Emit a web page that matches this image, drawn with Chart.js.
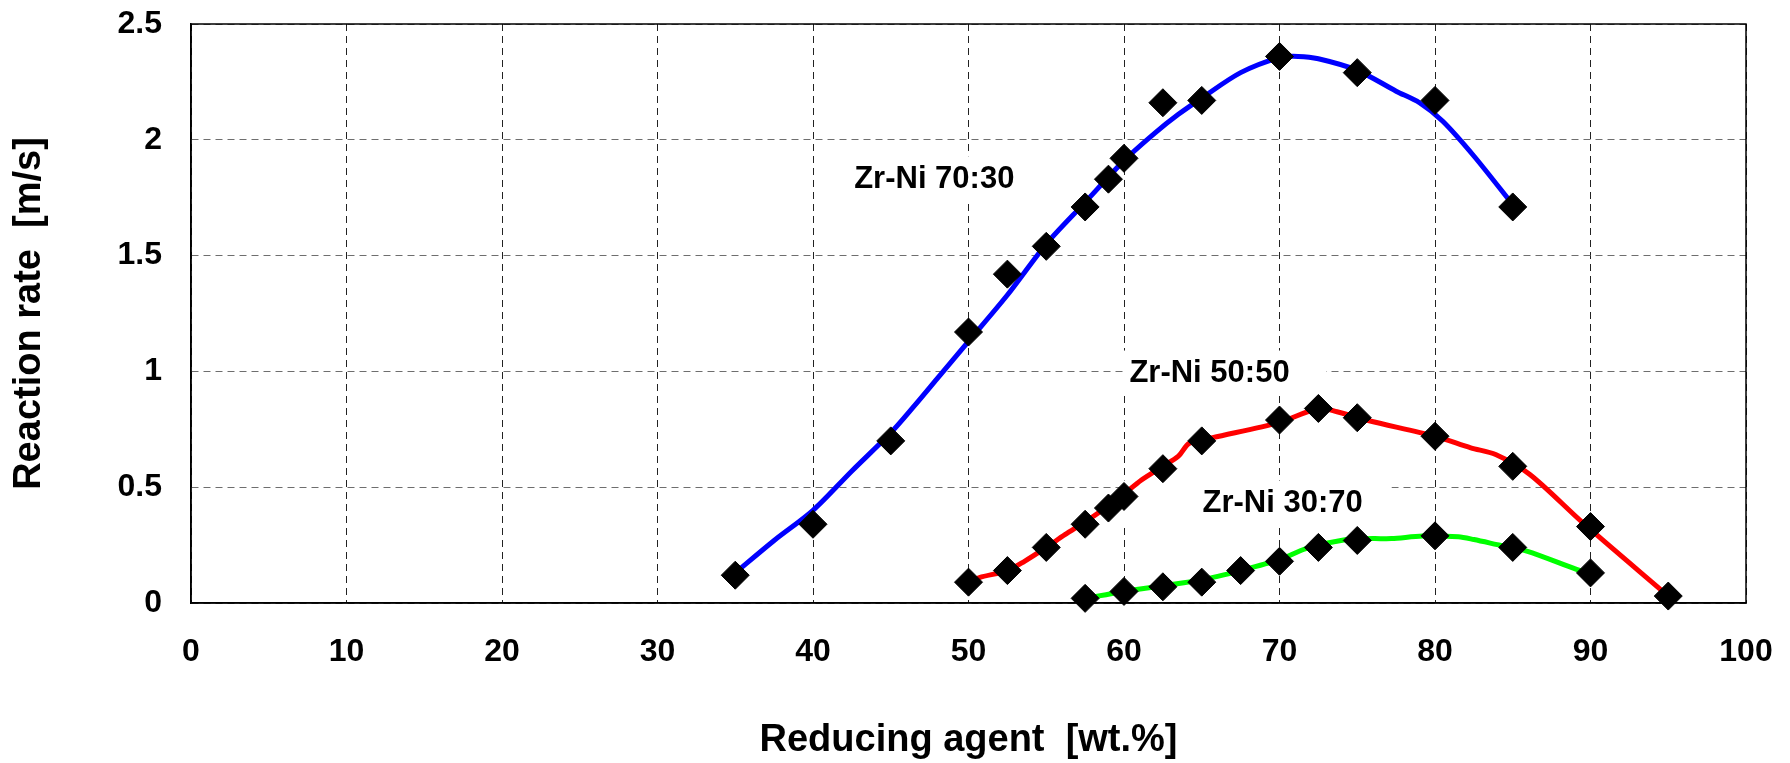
<!DOCTYPE html>
<html>
<head>
<meta charset="utf-8">
<script src="https://cdn.jsdelivr.net/npm/chart.js@4.4.1/dist/chart.umd.min.js"></script>
<style>
  html, body { margin: 0; padding: 0; background: #ffffff; }
</style>
</head>
<body>
<canvas id="rateChart" width="1790" height="763"></canvas>
<script>
// axis ticks
const xTicks = [0, 10, 20, 30, 40, 50, 60, 70, 80, 90, 100];
const yTicks = [0, 0.5, 1, 1.5, 2, 2.5];

// measured points (diamonds)
const zr7030X = [35, 40, 45, 50, 52.5, 55, 57.5, 59, 60, 62.5, 65, 70, 75, 80, 85];
const zr7030Y = [0.12, 0.34, 0.70, 1.17, 1.42, 1.54, 1.71, 1.83, 1.92, 2.16, 2.17, 2.36, 2.29, 2.17, 1.71];

const zr5050X = [50, 52.5, 55, 57.5, 59, 60, 62.5, 65, 70, 72.5, 75, 80, 85, 90, 95];
const zr5050Y = [0.09, 0.14, 0.24, 0.34, 0.41, 0.46, 0.58, 0.70, 0.79, 0.84, 0.80, 0.72, 0.59, 0.33, 0.03];

const zr3070X = [57.5, 60, 62.5, 65, 67.5, 70, 72.5, 75, 80, 85, 90];
const zr3070Y = [0.02, 0.05, 0.07, 0.09, 0.14, 0.18, 0.24, 0.27, 0.29, 0.24, 0.13];

// smoothed trend curves
const fit7030X = [35, 37.5, 40, 42.5, 45, 46.5, 48, 50, 52.5, 55, 57.5, 60, 62, 63.5, 65, 67.5, 70, 71.2, 72.5, 75, 77.5, 79, 80.5, 82.5, 85];
const fit7030Y = [0.13, 0.27, 0.40, 0.57, 0.735, 0.85, 0.97, 1.13, 1.33, 1.55, 1.73, 1.91, 2.03, 2.11, 2.18, 2.29, 2.355, 2.36, 2.35, 2.30, 2.21, 2.16, 2.08, 1.93, 1.72];

const fit5050X = [50, 50.7, 52.5, 53.6, 55, 56.2, 57.5, 59, 60, 61.1, 62.5, 63.5, 64.2, 65.7, 70, 72.5, 73.7, 75.7, 80, 82.3, 83.9, 86.1, 89.5, 95];
const fit5050Y = [0.09, 0.11, 0.14, 0.18, 0.24, 0.295, 0.35, 0.42, 0.47, 0.53, 0.59, 0.634, 0.69, 0.714, 0.78, 0.84, 0.826, 0.788, 0.72, 0.67, 0.641, 0.555, 0.347, 0.03];

const fit3070X = [57.5, 60, 62.5, 65, 67.5, 70, 71.7, 74.3, 76, 77.2, 79.2, 81.5, 82.5, 84, 85.9, 89.1, 90];
const fit3070Y = [0.02, 0.05, 0.075, 0.10, 0.14, 0.187, 0.235, 0.274, 0.278, 0.278, 0.289, 0.286, 0.274, 0.252, 0.224, 0.145, 0.125];

// curve captions (text centre and white box extent, in data units)
const captions = [
  { text: "Zr-Ni 70:30", x: 47.8, y: 1.834, boxFrom: 41.8, boxTo: 53.6 },
  { text: "Zr-Ni 50:50", x: 65.5, y: 0.995, boxFrom: 60.0, boxTo: 73.0 },
  { text: "Zr-Ni 30:70", x: 70.2, y: 0.434, boxFrom: 59.9, boxTo: 77.2 }
];

const FONT = "'Liberation Sans', Arial, Helvetica, sans-serif";

const toPoints = (xs, ys) => xs.map((x, i) => ({ x: x, y: ys[i] }));

const markerSet = (xs, ys) => ({
  data: toPoints(xs, ys),
  showLine: false,
  pointStyle: "rectRot",
  pointRadius: 14,
  pointBackgroundColor: "#000000",
  pointBorderColor: "#000000",
  pointBorderWidth: 1,
  clip: false,
  order: 0
});

const curveSet = (xs, ys, color) => ({
  data: toPoints(xs, ys),
  showLine: true,
  borderColor: color,
  borderWidth: 5,
  tension: 0.3,
  pointRadius: 0,
  fill: false,
  order: 1
});

// frame and captions behind the data
const framePlugin = {
  id: "frame",
  beforeDatasetsDraw(chart) {
    const { ctx, chartArea, scales } = chart;
    ctx.save();
    ctx.strokeStyle = "#000000";
    ctx.lineWidth = 1.5;
    ctx.strokeRect(chartArea.left, chartArea.top, chartArea.right - chartArea.left, chartArea.bottom - chartArea.top);

    ctx.font = "bold 31px " + FONT;
    ctx.textAlign = "center";
    ctx.textBaseline = "middle";
    captions.forEach(c => {
      const cx = scales.x.getPixelForValue(c.x);
      const cy = scales.y.getPixelForValue(c.y);
      const bx0 = scales.x.getPixelForValue(c.boxFrom);
      const bx1 = scales.x.getPixelForValue(c.boxTo);
      ctx.fillStyle = "#ffffff";
      ctx.fillRect(bx0, cy - 22, bx1 - bx0, 44);
      ctx.fillStyle = "#000000";
      ctx.fillText(c.text, cx, cy + 1);
    });
    ctx.restore();
  }
};

new Chart(document.getElementById("rateChart"), {
  type: "scatter",
  data: {
    datasets: [
      markerSet(zr7030X, zr7030Y),
      markerSet(zr5050X, zr5050Y),
      markerSet(zr3070X, zr3070Y),
      curveSet(fit7030X, fit7030Y, "#0000ff"),
      curveSet(fit5050X, fit5050Y, "#ff0000"),
      curveSet(fit3070X, fit3070Y, "#00ff00")
    ]
  },
  options: {
    responsive: false,
    animation: false,
    layout: {
      padding: { top: 24, right: 44, left: 0, bottom: 0 }
    },
    plugins: {
      legend: { display: false },
      tooltip: { enabled: false }
    },
    scales: {
      x: {
        type: "linear",
        min: xTicks[0],
        max: xTicks[xTicks.length - 1],
        afterBuildTicks: scale => { scale.ticks = xTicks.map(v => ({ value: v })); },
        afterFit: scale => {
          scale.height = 160;
          scale.paddingLeft = 0;
          scale.paddingRight = 0;
        },
        ticks: {
          color: "#000000",
          padding: 30,
          maxRotation: 0,
          font: { family: FONT, size: 32, weight: "bold" },
          callback: v => String(v)
        },
        grid: {
          color: "#222222",
          lineWidth: 1,
          drawTicks: false
        },
        border: { display: true, color: "#000000", width: 1.5, dash: [7, 5] },
        title: {
          display: true,
          text: "Reducing agent  [wt.%]",
          color: "#000000",
          font: { family: FONT, size: 38, weight: "bold" },
          padding: { top: 0, bottom: 0 }
        }
      },
      y: {
        type: "linear",
        min: yTicks[0],
        max: yTicks[yTicks.length - 1],
        afterBuildTicks: scale => { scale.ticks = yTicks.map(v => ({ value: v })); },
        afterFit: scale => {
          scale.width = 191;
          scale.paddingTop = 0;
          scale.paddingBottom = 0;
        },
        ticks: {
          color: "#000000",
          padding: 29,
          font: { family: FONT, size: 32, weight: "bold" },
          callback: v => String(v)
        },
        grid: {
          color: "#6e6e6e",
          lineWidth: 1,
          drawTicks: false
        },
        border: { display: true, color: "#000000", width: 1.5, dash: [7, 5] },
        title: {
          display: true,
          text: "Reaction rate  [m/s]",
          color: "#000000",
          font: { family: FONT, size: 38, weight: "bold" },
          padding: { top: 7, bottom: 0 }
        }
      }
    }
  },
  plugins: [framePlugin]
});
</script>
</body>
</html>
